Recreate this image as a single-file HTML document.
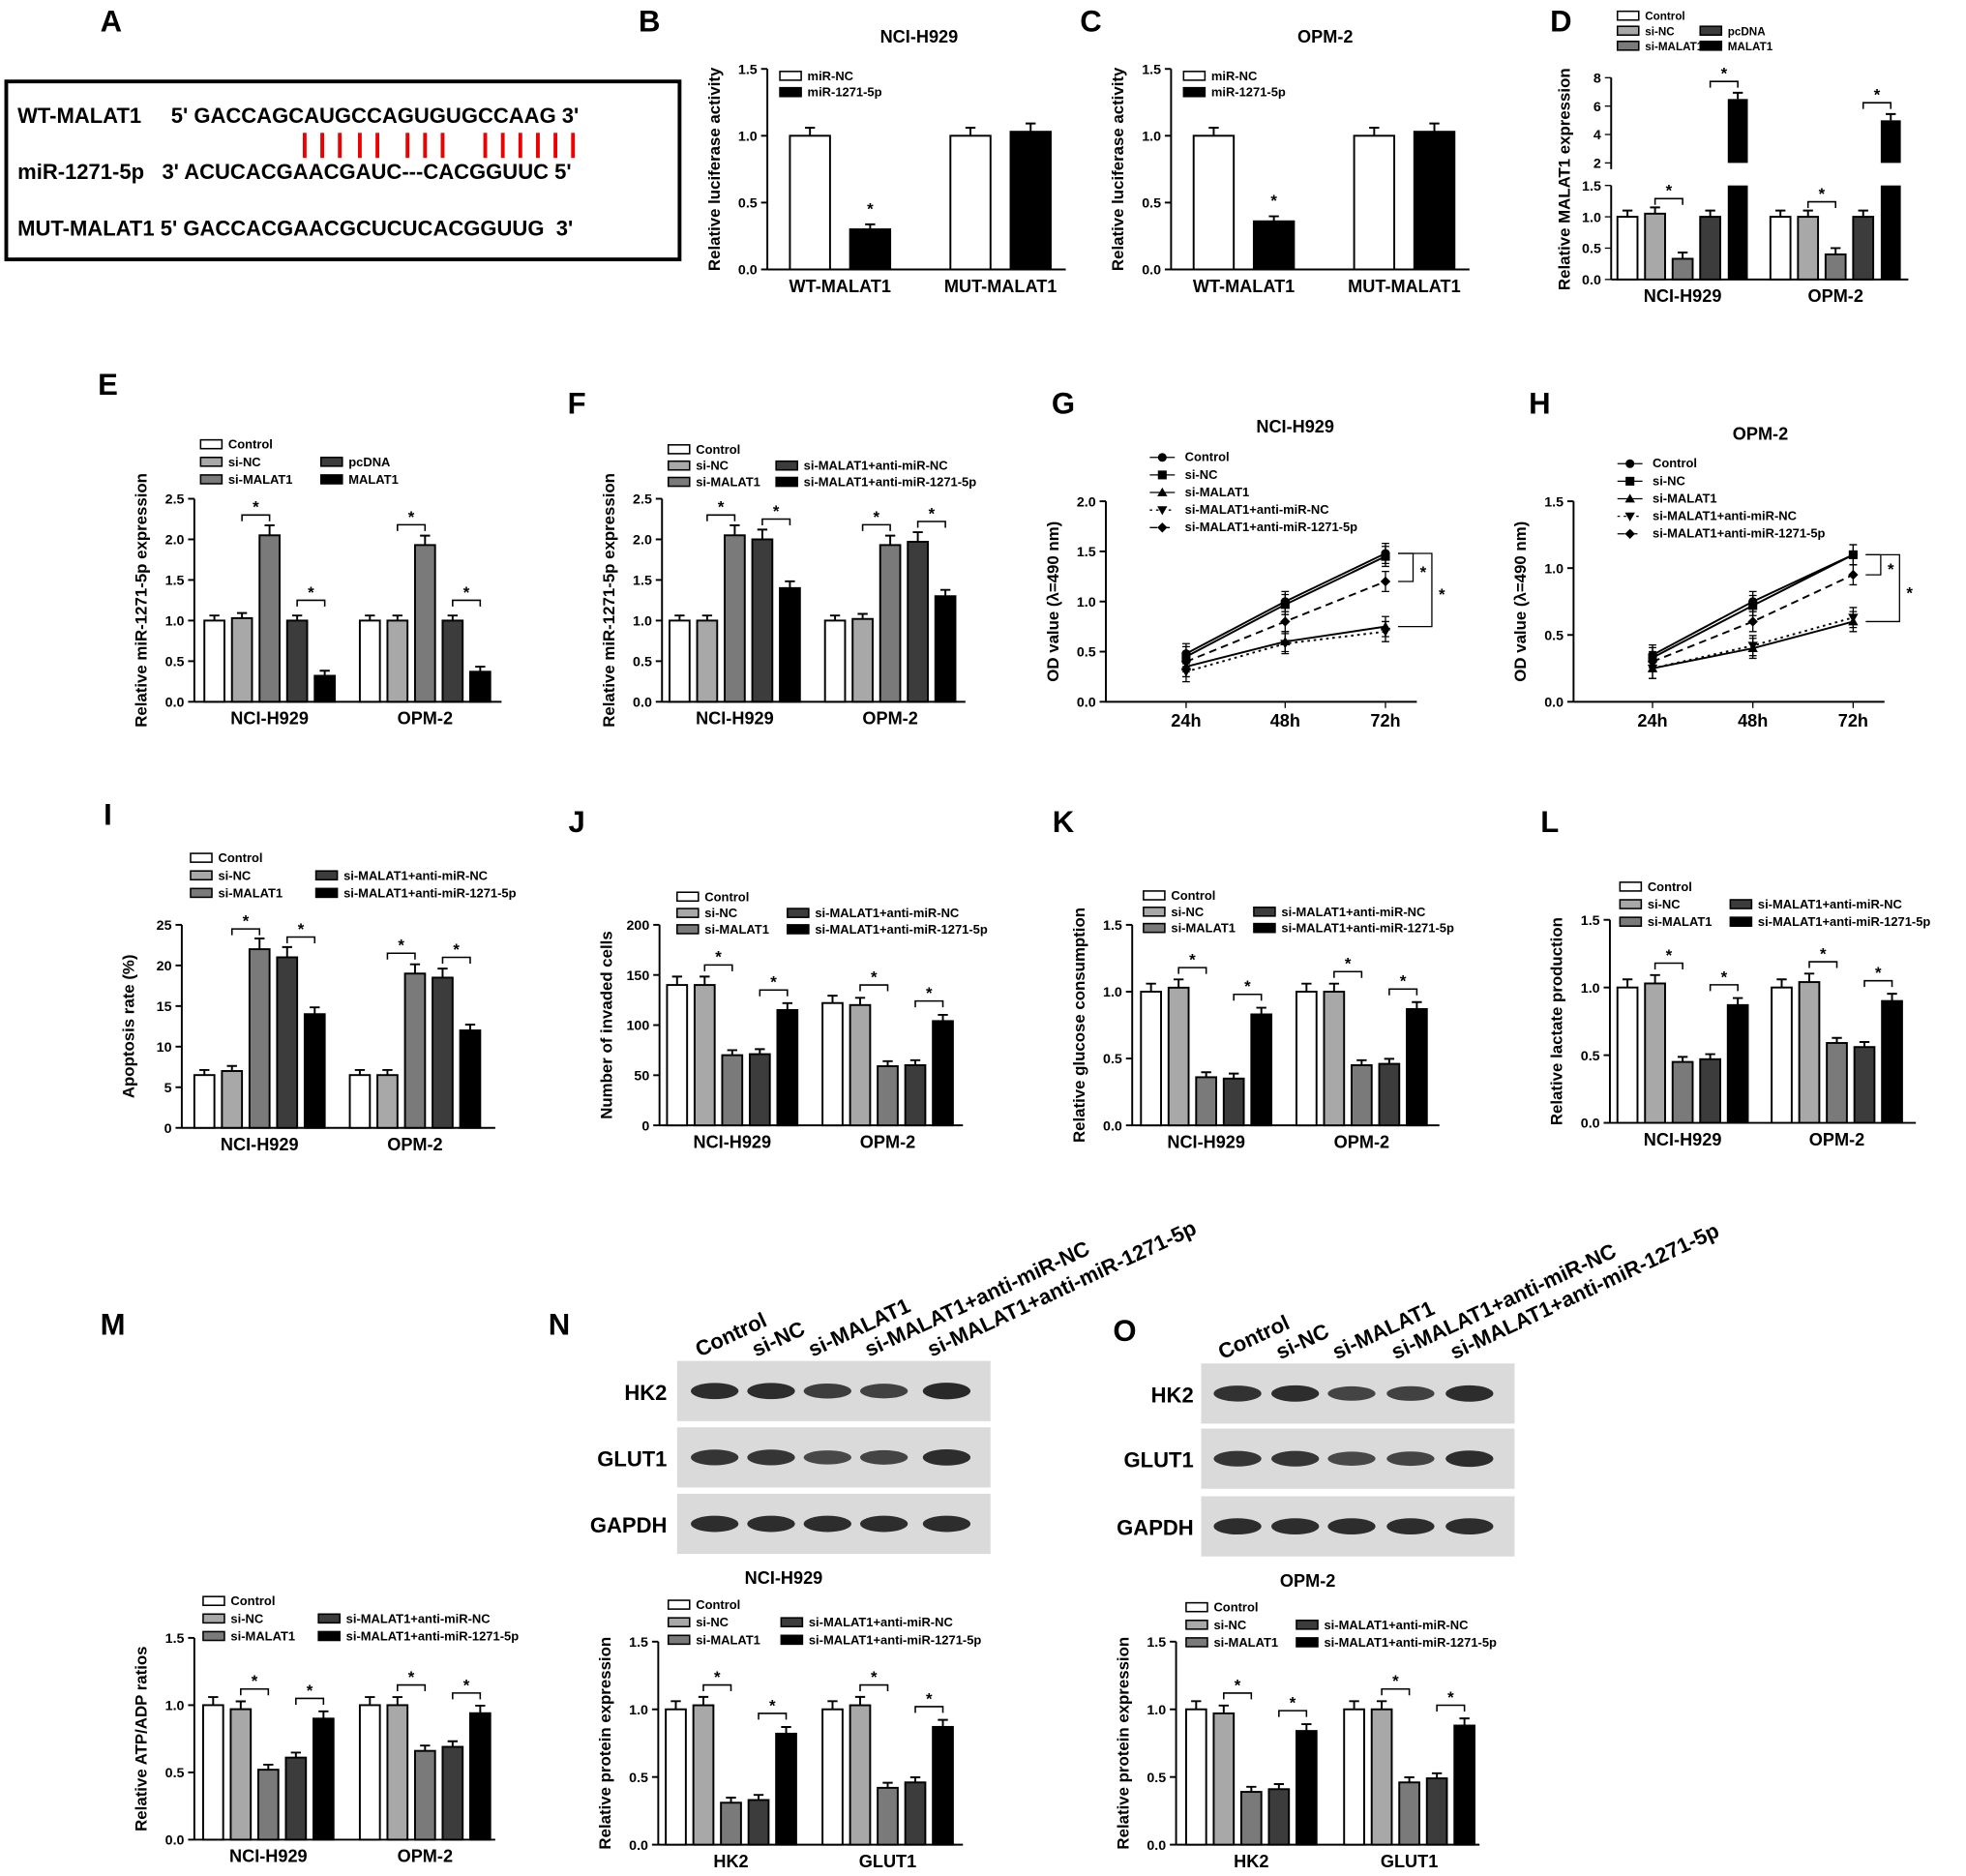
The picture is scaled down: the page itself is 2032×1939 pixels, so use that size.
<!DOCTYPE html>
<html><head><meta charset="utf-8">
<style>
html,body{margin:0;padding:0;background:#fff;}
svg{display:block;font-family:"Liberation Sans",Arial,sans-serif;}
</style></head>
<body>
<svg id="fig" width="2032" height="1939" viewBox="0 0 1568 1497" preserveAspectRatio="none" xmlns="http://www.w3.org/2000/svg">
<g id="panelA" font-weight="bold" font-size="17">
<text x="80" y="25" font-size="24">A</text>
<rect x="5" y="65" width="537" height="142" fill="none" stroke="#000" stroke-width="3"/>
<text x="14" y="98">WT-MALAT1&#160;&#160;&#160;&#160; 5' GACCAGCAUGCCAGUGUGCCAAG 3'</text>
<text x="14" y="143">miR-1271-5p&#160;&#160; 3' ACUCACGAACGAUC---CACGGUUC 5'</text>
<text x="14" y="188">MUT-MALAT1 5' GACCACGAACGCUCUCACGGUUG&#160; 3'</text>
<g stroke="#e00" stroke-width="3">
<line x1="243" y1="106" x2="243" y2="126"/><line x1="257" y1="106" x2="257" y2="126"/><line x1="271" y1="106" x2="271" y2="126"/><line x1="287" y1="106" x2="287" y2="126"/><line x1="301" y1="106" x2="301" y2="126"/><line x1="325" y1="106" x2="325" y2="126"/><line x1="339" y1="106" x2="339" y2="126"/><line x1="353" y1="106" x2="353" y2="126"/><line x1="387" y1="106" x2="387" y2="126"/><line x1="401" y1="106" x2="401" y2="126"/><line x1="415" y1="106" x2="415" y2="126"/><line x1="429" y1="106" x2="429" y2="126"/><line x1="443" y1="106" x2="443" y2="126"/><line x1="457" y1="106" x2="457" y2="126"/>
</g>
</g>
<g id="charts"></g>
</svg>
<script>
// ---- data ----
const groupNames = ["NCI-H929","OPM-2"];
const bCategories = ["WT-MALAT1","MUT-MALAT1"];
const bVals = [[1.0,0.30],[1.0,1.03]];
const cVals = [[1.0,0.36],[1.0,1.03]];
const dVals = [[1.0,1.05,0.33,1.0,6.5],[1.0,1.0,0.40,1.0,5.0]];
const eVals = [[1.0,1.03,2.05,1.0,0.32],[1.0,1.0,1.93,1.0,0.37]];
const fVals = [[1.0,1.0,2.05,2.0,1.4],[1.0,1.02,1.93,1.97,1.3]];
const gTimes = ["24h","48h","72h"];
const gSeries = [[0.48,1.0,1.48],[0.45,0.97,1.45],[0.35,0.6,0.75],[0.3,0.58,0.7],[0.4,0.8,1.2]];
const hSeries = [[0.35,0.75,1.1],[0.33,0.72,1.1],[0.25,0.4,0.6],[0.25,0.42,0.63],[0.3,0.6,0.95]];
const iVals = [[6.5,7,22,21,14],[6.5,6.5,19,18.5,12]];
const jVals = [[140,140,70,71,115],[122,120,59,60,104]];
const kVals = [[1.0,1.03,0.36,0.35,0.83],[1.0,1.0,0.45,0.46,0.87]];
const lVals = [[1.0,1.03,0.45,0.47,0.87],[1.0,1.04,0.59,0.56,0.9]];
const mVals = [[1.0,0.97,0.52,0.61,0.9],[1.0,1.0,0.66,0.69,0.94]];
const nVals = [[1.0,1.03,0.31,0.33,0.82],[1.0,1.03,0.42,0.46,0.87]];
const oVals = [[1.0,0.97,0.39,0.41,0.84],[1.0,1.0,0.46,0.49,0.88]];
const proteinNames = ["HK2","GLUT1"];
const tick15 = ["0.0","0.5","1.0","1.5"];
const tick25 = ["0.0","0.5","1.0","1.5","2.0","2.5"];
const tick20 = ["0.0","0.5","1.0","1.5","2.0"];
const tickI = ["0","5","10","15","20","25"];
const tickJ = ["0","50","100","150","200"];
const laneLabels = ["Control","si-NC","si-MALAT1","si-MALAT1+anti-miR-NC","si-MALAT1+anti-miR-1271-5p"];
const nBands = [[1.0,1.0,0.8,0.75,1.05],[0.9,0.9,0.65,0.7,1.0],[1,1,1,1,1]];
const oBands = [[0.95,1.0,0.7,0.75,1.0],[0.9,0.9,0.65,0.7,1.0],[1,1,1,1,1]];

const NS="http://www.w3.org/2000/svg";
const root=document.getElementById('charts');
const FILLS=["#fff","#a8a8a8","#7a7a7a","#3c3c3c","#000"];
function el(tag,attrs,parent,txt){const e=document.createElementNS(NS,tag);for(const k in attrs)e.setAttribute(k,attrs[k]);if(txt!==undefined)e.textContent=txt;(parent||root).appendChild(e);return e;}
function txt(x,y,s,size,parent,anchor,extra){const t=el('text',Object.assign({x:x,y:y,'font-size':size,'font-weight':'bold','text-anchor':anchor||'middle'},extra||{}),parent,s);return t;}
function letter(x,y,s){const t=txt(x,y,s,24,root,'middle');

}

function yAxis(g,ax,y0,yTop,max,ticks,label){
 el('line',{x1:ax,y1:y0,x2:ax,y2:yTop,stroke:'#000','stroke-width':1.5},g);
 ticks.forEach((t,i)=>{const v=parseFloat(t);const y=y0-(v/max)*(y0-yTop);
  el('line',{x1:ax-5,y1:y,x2:ax,y2:y,stroke:'#000','stroke-width':1.5},g);
  const tt=txt(ax-8,y+4,t,11,g,'end');
  
  });
 const lab=txt(0,0,label,13,g,'middle',{transform:`translate(${ax-38},${(y0+yTop)/2}) rotate(-90)`});
 
 
}
function bracket(g,x1,x2,y){el('path',{d:`M${x1} ${y+5}V${y}H${x2}V${y+5}`,fill:'none',stroke:'#000','stroke-width':1.2},g);txt((x1+x2)/2,y-2,'*',13,g);}

function barChart(name,o){
 const g=el('g',{});
 
 
 const sc=v=>o.y0-(v/o.max)*(o.y0-o.yTop);
 yAxis(g,o.ax,o.y0,o.yTop,o.max,o.ticks,o.label);
 el('line',{x1:o.ax,y1:o.y0,x2:o.xEnd,y2:o.y0,stroke:'#000','stroke-width':1.5},g);
 o.vals.forEach((grp,gi)=>{
  const n=grp.length;
  grp.forEach((v,bi)=>{
   const x=o.gx[gi]+bi*o.step;const y=sc(v);
   const fill=n===2?(bi===0?'#fff':'#000'):FILLS[bi];
   const r=el('rect',{x:x,y:y,width:o.bw,height:o.y0-y,fill:fill,stroke:'#000','stroke-width':1.5},g);
   
   
   const e=(o.y0-o.yTop)*0.05*Math.max(0.5,v/o.max*1.2);
   el('path',{d:`M${x+o.bw/2} ${y}V${y-e}M${x+o.bw/2-4} ${y-e}H${x+o.bw/2+4}`,stroke:'#000','stroke-width':1.5,fill:'none'},g);
  });
  const cx=o.gx[gi]+((n-1)*o.step+o.bw)/2;
  const lt=txt(cx,o.y0+18,o.cats[gi],14,g);
  
  
  if(n===2){if(gi===0){const x=o.gx[gi]+o.step+o.bw/2;txt(x,sc(grp[1])-12,'*',13,g);}}
  else if(o.brackets){
   const c=i=>o.gx[gi]+i*o.step+o.bw/2;
   const top1=Math.max(grp[1],grp[2]);const top2=Math.max(grp[3],grp[4]);
   bracket(g,c(1),c(2),sc(top1)-(o.y0-o.yTop)*0.1);
   bracket(g,c(3),c(4),sc(top2)-(o.y0-o.yTop)*0.1);
  }
 });
 return g;
}

function legend(g,x,y,labels,cols,dx,dy,size,twoCol){
 labels.forEach((l,i)=>{
  const col=twoCol?(i<3?0:1):0;const row=twoCol?(i<3?i:i-2):i;
  const lx=x+col*dx,ly=y+row*dy;
  const fill=labels.length===2?(i===0?'#fff':'#000'):FILLS[i];
  el('rect',{x:lx,y:ly-7,width:17,height:7,fill:fill,stroke:'#000','stroke-width':1.2},g);
  const t=txt(lx+22,ly,l,size,g,'start');
  
  
 });
}
const L5=["Control","si-NC","si-MALAT1","si-MALAT1+anti-miR-NC","si-MALAT1+anti-miR-1271-5p"];
const LD=["Control","si-NC","si-MALAT1","pcDNA","MALAT1"];

// B
letter(518,25,'B');
let g=barChart('panel-b-chart',{ax:612,y0:215,yTop:55,max:1.5,ticks:tick15,label:'Relative luciferase activity',xEnd:850,gx:[630,758],step:48,bw:32,vals:bVals,cats:bCategories});
txt(733,34,'NCI-H929',14,g);legend(g,622,64,['miR-NC','miR-1271-5p'],1,0,13,10);
// C
letter(870,25,'C');
g=barChart('panel-c-chart',{ax:934,y0:215,yTop:55,max:1.5,ticks:tick15,label:'Relative luciferase activity',xEnd:1172,gx:[952,1080],step:48,bw:32,vals:cVals,cats:bCategories});
txt(1057,34,'OPM-2',14,g);legend(g,944,64,['miR-NC','miR-1271-5p'],1,0,13,10);
// D (broken axis)
letter(1245,25,'D');
(function(){
 const g=el('g',{});
 
 
 const y0=223,yB=148,yU0=130,yU1=62;
 const sc=v=>v<=1.5?y0-(v/1.5)*(y0-yB):yU0-(v-2)/6*(yU0-yU1);
 el('line',{x1:1285,y1:y0,x2:1285,y2:yB,stroke:'#000','stroke-width':1.5},g);
 el('line',{x1:1285,y1:yU0+5,x2:1285,y2:yU1,stroke:'#000','stroke-width':1.5},g);
 el('line',{x1:1285,y1:y0,x2:1522,y2:y0,stroke:'#000','stroke-width':1.5},g);
 ["0.0","0.5","1.0","1.5"].forEach(t=>{const y=sc(parseFloat(t));el('line',{x1:1280,y1:y,x2:1285,y2:y,stroke:'#000'},g);txt(1277,y+4,t,11,g,'end');});
 ["2","4","6","8"].forEach(t=>{const y=sc(parseFloat(t));el('line',{x1:1280,y1:y,x2:1285,y2:y,stroke:'#000'},g);txt(1277,y+4,t,11,g,'end');});
 const lab=txt(0,0,'Relative MALAT1 expression',13,g,'middle',{transform:'translate(1252,143) rotate(-90)'});
 
 
 const gx=[1290,1412];
 dVals.forEach((grp,gi)=>{grp.forEach((v,bi)=>{
  const x=gx[gi]+bi*22;
  if(v<=1.5){const y=sc(v);const r=el('rect',{x:x,y:y,width:16,height:y0-y,fill:FILLS[bi],stroke:'#000','stroke-width':1.5},g);
   
   
   el('path',{d:`M${x+8} ${y}V${y-5}M${x+4} ${y-5}H${x+12}`,stroke:'#000','stroke-width':1.5},g);}
  else{const y=sc(v);
   const r1=el('rect',{x:x,y:yB,width:16,height:y0-yB,fill:'#000'},g);
   
   
   const r2=el('rect',{x:x,y:y,width:16,height:yU0-y,fill:'#000'},g);
   
   
   el('path',{d:`M${x+8} ${y}V${y-5}M${x+4} ${y-5}H${x+12}`,stroke:'#000','stroke-width':1.5},g);}
 });
 const c=i=>gx[gi]+i*22+8;
 bracket(g,c(1),c(2),sc(Math.max(grp[1],grp[2]))-12);
 bracket(g,c(3),c(4),sc(grp[4])-14);
 txt(gx[gi]+52,241,groupNames[gi],14,g);
 });
 legend(g,1290,16,LD,1,66,12,9,true);
})();
// E
letter(86,315,'E');
g=barChart('panel-e-chart',{ax:155,y0:560,yTop:398,max:2.5,ticks:tick25,label:'Relative miR-1271-5p expression',xEnd:400,gx:[163,287],step:22,bw:16,vals:eVals,cats:groupNames,brackets:true});
legend(g,160,358,LD,1,96,14,10,true);
// F
letter(460,330,'F');
g=barChart('panel-f-chart',{ax:528,y0:560,yTop:398,max:2.5,ticks:tick25,label:'Relative miR-1271-5p expression',xEnd:770,gx:[534,658],step:22,bw:16,vals:fVals,cats:groupNames,brackets:true});
legend(g,533,362,L5,1,86,13,10,true);
// Line charts
const MK=['circle','square','tri','dtri','diamond'];
const DASH=['','','','2,3','6,4'];
function marker(g,t,x,y){
 if(t==='circle')el('circle',{cx:x,cy:y,r:3.5,fill:'#000'},g);
 else if(t==='square')el('rect',{x:x-3.5,y:y-3.5,width:7,height:7,fill:'#000'},g);
 else if(t==='tri')el('path',{d:`M${x} ${y-4}L${x+4} ${y+3}L${x-4} ${y+3}Z`,fill:'#000'},g);
 else if(t==='dtri')el('path',{d:`M${x} ${y+4}L${x+4} ${y-3}L${x-4} ${y-3}Z`,fill:'#000'},g);
 else el('path',{d:`M${x} ${y-4}L${x+4} ${y}L${x} ${y+4}L${x-4} ${y}Z`,fill:'#000'},g);
}
function lineChart(name,o){
 const g=el('g',{});
 
 
 const sc=v=>o.y0-(v/o.max)*(o.y0-o.yTop);
 yAxis(g,o.ax,o.y0,o.yTop,o.max,o.ticks,'OD value (λ=490 nm)');
 el('line',{x1:o.ax,y1:o.y0,x2:o.xs[2]+25,y2:o.y0,stroke:'#000','stroke-width':1.5},g);
 o.xs.forEach((x,i)=>{el('line',{x1:x,y1:o.y0,x2:x,y2:o.y0+5,stroke:'#000'},g);
  const t=txt(x,o.y0+20,gTimes[i],14,g);
  
  });
 o.series.forEach((s,si)=>{
  const p=s.map((v,i)=>`${i?'L':'M'}${o.xs[i]} ${sc(v)}`).join('');
  const path=el('path',{d:p,fill:'none',stroke:'#000','stroke-width':1.5,'stroke-dasharray':DASH[si]},g);
  
  
  s.forEach((v,i)=>{const y=sc(v);el('path',{d:`M${o.xs[i]} ${y-8}V${y+8}M${o.xs[i]-3} ${y-8}H${o.xs[i]+3}M${o.xs[i]-3} ${y+8}H${o.xs[i]+3}`,stroke:'#000'},g);marker(g,MK[si],o.xs[i],y);});
 });
 const xe=o.xs[2];
 const b=(x,a,c)=>{el('path',{d:`M${xe+10} ${sc(a)}H${x}V${sc(c)}H${xe+10}`,fill:'none',stroke:'#000'},g);txt(x+8,(sc(a)+sc(c))/2+8,'*',13,g);};
 b(xe+22,o.series[0][2],o.series[4][2]);b(xe+37,o.series[0][2],o.series[2][2]);
 txt(o.title[0],o.title[1],o.title[2],14,g);
 L5.forEach((l,i)=>{const ly=o.leg[1]+i*14;el('line',{x1:o.leg[0],y1:ly-3,x2:o.leg[0]+20,y2:ly-3,stroke:'#000','stroke-dasharray':DASH[i]},g);marker(g,MK[i],o.leg[0]+10,ly-3);
  const t=txt(o.leg[0]+28,ly,l,10,g,'start');
  
  });
}
letter(848,330,'G');
lineChart('panel-g-chart',{ax:882,y0:560,yTop:400,max:2.0,ticks:tick20,xs:[946,1025,1105],series:gSeries,title:[1033,345,'NCI-H929'],leg:[917,368]});
letter(1228,330,'H');
lineChart('panel-h-chart',{ax:1255,y0:560,yTop:400,max:1.5,ticks:tick15,xs:[1318,1398,1478],series:hSeries,title:[1404,351,'OPM-2'],leg:[1290,373]});
// I-L
letter(86,658,'I');
g=barChart('panel-i-chart',{ax:145,y0:900,yTop:738,max:25,ticks:tickI,label:'Apoptosis rate (%)',xEnd:395,gx:[155,279],step:22,bw:16,vals:iVals,cats:groupNames,brackets:true});
legend(g,152,688,L5,1,100,14,10,true);
letter(460,664,'J');
g=barChart('panel-j-chart',{ax:526,y0:898,yTop:738,max:200,ticks:tickJ,label:'Number of invaded cells',xEnd:768,gx:[532,656],step:22,bw:16,vals:jVals,cats:groupNames,brackets:true});
legend(g,540,719,L5,1,88,13,10,true);
letter(848,664,'K');
g=barChart('panel-k-chart',{ax:903,y0:898,yTop:738,max:1.5,ticks:tick15,label:'Relative glucose consumption',xEnd:1148,gx:[910,1034],step:22,bw:16,vals:kVals,cats:groupNames,brackets:true});
legend(g,912,718,L5,1,88,13,10,true);
letter(1236,664,'L');
g=barChart('panel-l-chart',{ax:1284,y0:896,yTop:734,max:1.5,ticks:tick15,label:'Relative lactate production',xEnd:1528,gx:[1290,1413],step:22,bw:16,vals:lVals,cats:groupNames,brackets:true});
legend(g,1292,711,L5,1,88,14,10,true);
// M N O charts
letter(90,1065,'M');
g=barChart('panel-m-chart',{ax:155,y0:1468,yTop:1307,max:1.5,ticks:tick15,label:'Relative ATP/ADP ratios',xEnd:395,gx:[162,287],step:22,bw:16,vals:mVals,cats:groupNames,brackets:true});
legend(g,162,1281,L5,1,92,14,10,true);
letter(446,1065,'N');
g=barChart('panel-n-chart',{ax:525,y0:1472,yTop:1310,max:1.5,ticks:tick15,label:'Relative protein expression',xEnd:768,gx:[531,656],step:22,bw:16,vals:nVals,cats:proteinNames,brackets:true});
legend(g,533,1284,L5,1,90,14,10,true);
letter(897,1070,'O');
g=barChart('panel-o-chart',{ax:938,y0:1472,yTop:1310,max:1.5,ticks:tick15,label:'Relative protein expression',xEnd:1180,gx:[946,1072],step:22,bw:16,vals:oVals,cats:proteinNames,brackets:true});
legend(g,946,1286,L5,1,88,14,10,true);
// Western blots
function blot(name,bx,bands,lanesX,rowY,labX,caption){
 const g=el('g',{});
 
 
 const rows=["HK2","GLUT1","GAPDH"];
 rows.forEach((r,ri)=>{
  el('rect',{x:bx,y:rowY[ri],width:250,height:48,fill:'#dadada'},g);
  const t=txt(labX,rowY[ri]+31,r,17,g,'end');
  
  
  bands[ri].forEach((a,li)=>{
   const b=el('ellipse',{cx:lanesX[li],cy:rowY[ri]+24,rx:19,ry:4+2.5*a,fill:'#1a1a1a','fill-opacity':0.5+0.4*a},g);
   
   
  });
 });
 laneLabels.forEach((l,li)=>{const t=txt(0,0,l,17,g,'start',{transform:`translate(${lanesX[li]-12},${rowY[0]-3}) rotate(-25)`});
  
  });
 txt(bx+85,rowY[2]+72,caption,14,g);
}
blot('panel-n-blot',540,nBands,[570,615,660,705,755],[1086,1139,1192],532,'NCI-H929');
blot('panel-o-blot',958,oBands,[987,1033,1078,1125,1172],[1088,1140,1194],952,'OPM-2');
</script>
</body></html>
